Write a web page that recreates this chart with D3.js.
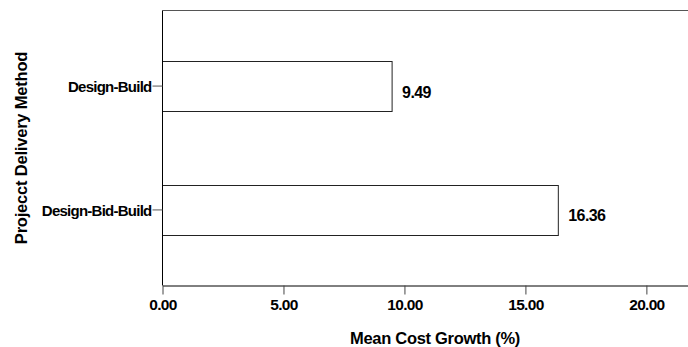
<!DOCTYPE html>
<html>
<head>
<meta charset="utf-8">
<script src="https://cdn.jsdelivr.net/npm/d3@7/dist/d3.min.js"></script>
<style>
  html, body { margin: 0; padding: 0; background: #fff; }
  svg { display: block; }
  text { font-family: "Liberation Sans", Arial, Helvetica, sans-serif; font-weight: bold; fill: #000; }
</style>
</head>
<body>
<svg id="chart" width="688" height="347"></svg>
<script>
const categories = ["Design-Build", "Design-Bid-Build"];
const meanCostGrowth = [9.49, 16.36];
const xTickValues = [0, 5, 10, 15, 20];
const xTitle = "Mean Cost Growth (%)";
const yTitle = "Projecct Delivery Method";

const W = 688, H = 347;
const plot = { left: 162.5, top: 10.5, right: 688, bottom: 285.5 };
const svg = d3.select("#chart");

const x = d3.scaleLinear().domain([0, 21.72]).range([plot.left, plot.right]);
const y = d3.scaleBand().domain(categories).range([plot.top, plot.bottom])
  .paddingInner(0.6).paddingOuter(0.41);

// top frame line
svg.append("line").attr("x1", plot.left).attr("x2", plot.right)
  .attr("y1", plot.top).attr("y2", plot.top)
  .attr("stroke", "#555").attr("stroke-width", 1);

// bars
svg.append("g").selectAll("rect").data(categories).join("rect")
  .attr("x", x(0))
  .attr("y", d => Math.round(y(d)) + 0.5)
  .attr("width", (d, i) => x(meanCostGrowth[i]) - x(0))
  .attr("height", Math.round(y.bandwidth()))
  .attr("fill", "#fff").attr("stroke", "#222").attr("stroke-width", 1);

// value labels
svg.append("g").selectAll("text").data(categories).join("text")
  .attr("x", (d, i) => x(meanCostGrowth[i]) + 10)
  .attr("y", d => y(d) + y.bandwidth() / 2 + 11.5)
  .attr("font-size", 16)
  .attr("letter-spacing", -0.6)
  .text((d, i) => meanCostGrowth[i].toFixed(2));

// x axis
const xAxis = d3.axisBottom(x).tickValues(xTickValues).tickFormat(d3.format(".2f"))
  .tickSize(9).tickSizeOuter(0).tickPadding(4);
const gx = svg.append("g").attr("transform", `translate(0,${plot.bottom})`).call(xAxis);
gx.select(".domain").attr("stroke", "#000");
gx.selectAll(".tick line").attr("stroke", "#444");
gx.selectAll(".tick text").attr("font-size", 15.5).attr("font-family", null)
  .attr("letter-spacing", -0.7).attr("fill", "#000");

// y axis
const yAxis = d3.axisLeft(y).tickSize(10).tickSizeOuter(0).tickPadding(1);
const gy = svg.append("g").attr("transform", `translate(${plot.left},0)`).call(yAxis);
gy.select(".domain").attr("stroke", "#000").attr("d", `M0,${plot.top}V${plot.bottom}`);
gy.selectAll(".tick line").attr("stroke", "#555");
gy.selectAll(".tick text").attr("font-size", 15).attr("font-family", null)
  .attr("letter-spacing", -0.75).attr("fill", "#000").attr("dy", "0.4em");

// titles
svg.append("text")
  .attr("x", 435).attr("y", 344)
  .attr("text-anchor", "middle").attr("font-size", 16.5).attr("letter-spacing", -0.3)
  .text(xTitle);

svg.append("text")
  .attr("transform", `translate(27,148) rotate(-90)`)
  .attr("text-anchor", "middle").attr("font-size", 16.5).attr("letter-spacing", -0.2)
  .text(yTitle);
</script>
</body>
</html>
